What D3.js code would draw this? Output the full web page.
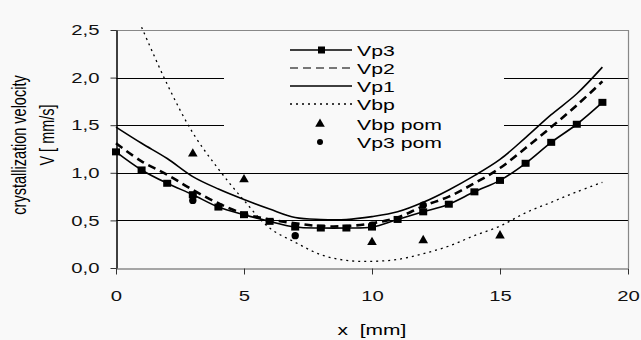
<!DOCTYPE html>
<html>
<head>
<meta charset="utf-8">
<script src="https://cdn.jsdelivr.net/npm/d3@7"></script>
<style>
  body { margin: 0; background: #f9f9f9; }
  svg { display: block; font-family: "Liberation Sans", Arial, sans-serif; }
</style>
</head>
<body>
<svg id="chart" width="641" height="340"></svg>
<script>
// values
let xValues = [0, 1, 2, 3, 4, 5, 6, 7, 8, 9, 10, 11, 12, 13, 14, 15, 16, 17, 18, 19]
let vp3 = [1.22, 1.03, 0.89, 0.77, 0.64, 0.56, 0.49, 0.43, 0.42, 0.42, 0.43, 0.51, 0.59, 0.67, 0.80, 0.92, 1.10, 1.32, 1.51, 1.74]
let vp2 = [1.31, 1.12, 0.98, 0.82, 0.68, 0.57, 0.51, 0.47, 0.44, 0.44, 0.47, 0.53, 0.65, 0.75, 0.89, 1.05, 1.26, 1.48, 1.71, 1.96]
let vp1 = [1.48, 1.31, 1.15, 0.96, 0.83, 0.72, 0.62, 0.53, 0.51, 0.51, 0.54, 0.59, 0.69, 0.82, 0.97, 1.14, 1.37, 1.61, 1.83, 2.11]
let vbpX = [1, 2, 3, 4, 5, 6, 7, 8, 9, 10, 11, 12, 13, 14, 15, 16, 17, 18, 19]
let vbp = [2.53, 1.93, 1.42, 1.04, 0.71, 0.42, 0.27, 0.14, 0.08, 0.07, 0.09, 0.15, 0.23, 0.34, 0.44, 0.58, 0.69, 0.80, 0.90]
let vbpPomX = [3, 5, 10, 12, 15]
let vbpPom = [1.20, 0.93, 0.27, 0.29, 0.34]
let vp3PomX = [3, 7, 10, 12]
let vp3Pom = [0.71, 0.34, 0.45, 0.66]
let xTicks = [0, 5, 10, 15, 20]
let yTicks = [0, 0.5, 1.0, 1.5, 2.0, 2.5]
let legendNames = ['Vp3', 'Vp2', 'Vp1', 'Vbp', 'Vbp pom', 'Vp3 pom']

let margin = { left: 116, right: 13, top: 30, bottom: 72 }
let width = 641, height = 340
let stretch = 1.4   // the source picture is widened, text looks wide

let svg = d3.select('#chart')

let xscale = d3.scaleLinear().domain([0, 20]).range([margin.left, width - margin.right])
let yscale = d3.scaleLinear().domain([0, 2.5]).range([height - margin.bottom, margin.top])

let fmt = d => d3.format('.1f')(d).replace('.', ',')

// grid lines (black, like excel)
svg.append('g')
    .selectAll('line')
    .data(yTicks.filter(d => d > 0 && d < 2.5))
    .join('line')
    .attr('x1', xscale(0)).attr('x2', xscale(20))
    .attr('y1', d => Math.round(yscale(d)) + 0.5)
    .attr('y2', d => Math.round(yscale(d)) + 0.5)
    .style('stroke', '#000')
    .style('stroke-width', 1)

// plot frame: top and right grey
svg.append('path')
    .attr('d', `M${xscale(0)},${Math.round(yscale(2.5)) + 0.5}H${Math.round(xscale(20)) + 0.5}V${yscale(0)}`)
    .style('fill', 'none')
    .style('stroke', '#888')
    .style('stroke-width', 1.2)

// axes
let xaxis = svg.append('g')
    .attr('transform', `translate(0,${Math.round(yscale(0)) + 0.5})`)
    .call(d3.axisBottom(xscale).tickValues(xTicks).tickSize(6).tickSizeOuter(0).tickPadding(16).tickFormat(d3.format('d')))
xaxis.select('.domain').style('stroke', '#555').style('stroke-width', 1.2)
xaxis.selectAll('.tick line').style('stroke', '#333')
xaxis.selectAll('text')
    .attr('transform', `scale(${stretch},1)`)
    .style('font-size', '14.5px').style('fill', '#111')

let yaxis = svg.append('g')
    .attr('transform', `translate(${Math.round(xscale(0)) + 0.5},0)`)
    .call(d3.axisLeft(yscale).tickValues(yTicks).tickSize(6).tickSizeOuter(0).tickFormat(fmt))
yaxis.select('.domain').style('stroke', '#000').style('stroke-width', 1.5)
yaxis.selectAll('.tick line').style('stroke', '#333')
yaxis.selectAll('text')
    .attr('x', 0)
    .attr('transform', `translate(-17,0) scale(${stretch},1)`)
    .style('font-size', '14.5px').style('fill', '#111')

// axis titles
svg.append('text')
    .attr('transform', `translate(26,145) scale(${stretch},1) rotate(-90)`)
    .attr('text-anchor', 'middle')
    .style('font-size', '14.5px')
    .text('crystallization velocity')
svg.append('text')
    .attr('transform', `translate(54,135) scale(${stretch},1) rotate(-90)`)
    .attr('text-anchor', 'middle')
    .style('font-size', '14.5px')
    .text('V [ mm/s]')
svg.append('text')
    .attr('transform', `translate(${xscale(10)},335) scale(${stretch},1)`)
    .attr('text-anchor', 'middle')
    .style('font-size', '15px')
    .style('white-space', 'pre')
    .text('x  [mm]')

// legend background hides the grid lines behind it
let lg = svg.append('g')
lg.append('rect')
    .attr('x', 224).attr('y', 38).attr('width', 280).attr('height', 120)
    .style('fill', '#f9f9f9')

// series
let smooth = d3.line().curve(d3.curveCatmullRom.alpha(0.5))
    .x(d => xscale(d[0])).y(d => yscale(d[1]))

let pair = (xa, ya) => xa.map((x, i) => [x, ya[i]])

let styles = [
    { data: pair(vbpX, vbp), width: 1.3, dash: '2,4' },
    { data: pair(xValues, vp1), width: 1.6, dash: null },
    { data: pair(xValues, vp2), width: 2.6, dash: '8,5' },
    { data: pair(xValues, vp3), width: 1.6, dash: null }
]

styles.forEach(s => {
    svg.append('path')
        .attr('d', smooth(s.data))
        .style('fill', 'none')
        .style('stroke', '#000')
        .style('stroke-width', s.width)
        .style('stroke-dasharray', s.dash)
})

svg.append('g').selectAll('rect')
    .data(pair(xValues, vp3))
    .join('rect')
    .attr('x', d => xscale(d[0]) - 4)
    .attr('y', d => yscale(d[1]) - 3.5)
    .attr('width', 8).attr('height', 7)
    .style('fill', '#000')

let tri = d3.symbol().type(d3.symbolTriangle).size(40)
svg.append('g').selectAll('path')
    .data(pair(vbpPomX, vbpPom))
    .join('path')
    .attr('d', tri)
    .attr('transform', d => `translate(${xscale(d[0])},${yscale(d[1])})`)
    .style('fill', '#000')

svg.append('g').selectAll('circle')
    .data(pair(vp3PomX, vp3Pom))
    .join('circle')
    .attr('cx', d => xscale(d[0]))
    .attr('cy', d => yscale(d[1]))
    .attr('r', 3.7)
    .style('fill', '#000')

// legend entries
let rowY = [50, 68, 86, 104, 124, 142]
let lx1 = 290, lx2 = 352, ltx = 357

legendNames.forEach((name, i) => {
    let y = rowY[i]
    if (i < 4) {
        let st = [styles[3], styles[2], styles[1], styles[0]][i]
        lg.append('line')
            .attr('x1', lx1).attr('x2', lx2).attr('y1', y).attr('y2', y)
            .style('stroke', i == 1 ? '#777' : '#000')
            .style('stroke-width', i == 1 ? 2 : (i == 3 ? 1.5 : 1.6))
            .style('stroke-dasharray', st.dash)
    }
    if (i == 0) {
        lg.append('rect').attr('x', 318).attr('y', y - 3.5).attr('width', 7).attr('height', 7).style('fill', '#000')
    }
    if (i == 4) {
        lg.append('path').attr('d', tri).attr('transform', `translate(320,${y})`).style('fill', '#000')
    }
    if (i == 5) {
        lg.append('circle').attr('cx', 320).attr('cy', y).attr('r', 3).style('fill', '#000')
    }
    lg.append('text')
        .attr('transform', `translate(${ltx},${y + 5.5}) scale(1.37,1)`)
        .style('font-size', '15.5px')
        .text(name)
})
</script>
</body>
</html>
